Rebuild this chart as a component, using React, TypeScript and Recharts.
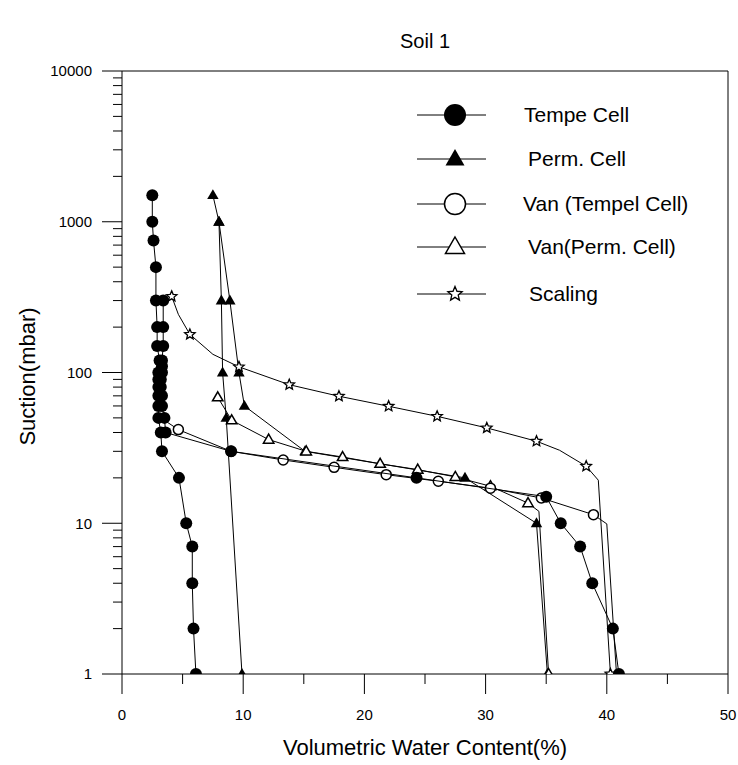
import React from "react";
import { ScatterChart, Scatter, XAxis, YAxis, ReferenceLine, Label } from "recharts";

const FONT = '"Liberation Sans", Arial, Helvetica, sans-serif';

// Tempe Cell, branch running to the wet end (legend entry)
const tempeX = [41.0, 40.5, 38.8, 37.8, 36.2, 35.0, 24.3, 9.0, 3.6, 3.5, 3.3, 3.3, 3.2, 3.2, 3.3, 3.3, 3.3, 3.4, 3.4, 3.4];
const tempeY = [1, 2, 4, 7, 10, 15, 20, 30, 40, 50, 60, 70, 80, 90, 100, 110, 120, 150, 200, 300];
// Tempe Cell, dry branch
const tempe2X = [2.5, 2.5, 2.6, 2.8, 2.8, 2.9, 2.9, 3.1, 3.0, 3.0, 3.0, 3.0, 3.0, 3.0, 3.2, 3.3, 4.7, 5.3, 5.8, 5.8, 5.9, 6.1];
const tempe2Y = [1500, 1000, 750, 500, 300, 200, 150, 120, 100, 90, 80, 70, 60, 50, 40, 30, 20, 10, 7, 4, 2, 1];

// Perm. Cell
const permX = [7.5, 8.0, 8.9, 9.65, 10.1, 15.1, 28.3, 34.2, 35.1];
const permY = [1500, 1000, 300, 100, 60, 30, 20, 10, 1];
const perm2X = [8.0, 8.2, 8.3, 8.6, 9.9];
const perm2Y = [1000, 300, 100, 50, 1];

// Van (Tempel Cell)
const vanTX = [3.2, 4.65, 9.0, 13.3, 17.5, 21.8, 26.1, 30.4, 34.6, 38.9, 40.0, 40.8];
const vanTY = [50, 41.8, 30, 26.3, 23.5, 21, 19, 17.1, 14.7, 11.4, 9.9, 1];
const vanTMarked = [false, true, true, true, true, true, true, true, true, true, false, false];

// Van (Perm. Cell)
const vanPX = [7.9, 9.05, 12.1, 15.2, 18.2, 21.3, 24.4, 27.5, 30.4, 33.5, 34.4, 35.2];
const vanPY = [68.5, 48.2, 35.9, 30, 27.5, 24.8, 22.7, 20.3, 17.6, 13.6, 12, 1];
const vanPMarked = [true, true, true, true, true, true, true, true, true, true, false, true];

// Scaling
const scaleX = [4.1, 4.65, 5.6, 7.5, 9.65, 13.8, 17.9, 22.0, 26.0, 30.1, 34.2, 36.1, 38.3, 39.3, 40.3];
const scaleY = [320, 243, 179, 132, 109, 83, 69.6, 59.7, 51.2, 42.9, 35, 30.5, 23.9, 19.3, 1];
const scaleMarked = [true, false, true, false, true, true, true, true, true, true, true, false, true, false, true];

const xTicks = [0, 5, 10, 15, 20, 25, 30, 35, 40, 45, 50];
const yTicks = [
  1, 2, 3, 4, 5, 6, 7, 8, 9,
  10, 20, 30, 40, 50, 60, 70, 80, 90,
  100, 200, 300, 400, 500, 600, 700, 800, 900,
  1000, 2000, 3000, 4000, 5000, 6000, 7000, 8000, 9000,
  10000,
];

const legendNames = ["Tempe Cell", "Perm. Cell", "Van (Tempel Cell)", "Van(Perm. Cell)", "Scaling"];
const legendKinds = ["fcircle", "ftri", "ocircle", "otri", "star"];

function rows(xs: number[], ys: number[], marked?: boolean[]) {
  return xs.map((x, i) => ({ x, y: ys[i], m: marked ? marked[i] : true }));
}

function marker(kind: string, cx: number, cy: number, s: number, key?: string) {
  if (kind === "fcircle") return <circle key={key} cx={cx} cy={cy} r={s} fill="#000" />;
  if (kind === "ocircle")
    return <circle key={key} cx={cx} cy={cy} r={s} fill="#fff" stroke="#000" strokeWidth={1.5} />;
  if (kind === "ftri" || kind === "otri") {
    const pts = `${cx},${cy - s} ${cx + s * 0.95},${cy + s * 0.65} ${cx - s * 0.95},${cy + s * 0.65}`;
    return kind === "ftri" ? (
      <polygon key={key} points={pts} fill="#000" />
    ) : (
      <polygon key={key} points={pts} fill="#fff" stroke="#000" strokeWidth={1.5} />
    );
  }
  const p: string[] = [];
  for (let i = 0; i < 10; i++) {
    const r = i % 2 === 0 ? s : s * 0.45;
    const a = -Math.PI / 2 + (i * Math.PI) / 5;
    p.push(`${cx + r * Math.cos(a)},${cy + r * Math.sin(a)}`);
  }
  return <polygon key={key} points={p.join(" ")} fill="#fff" stroke="#000" strokeWidth={1.3} />;
}

const shape = (kind: string, s: number) => (props: any) => {
  const { cx, cy, payload } = props;
  if (!payload || payload.m === false || cx == null || cy == null) return <g />;
  return marker(kind, cx, cy, s);
};

const YTick = (props: any) => {
  const { x, y, payload } = props;
  const v = payload.value;
  const major = Math.abs(Math.log10(v) - Math.round(Math.log10(v))) < 1e-9;
  return (
    <g>
      <line x1={x - (major ? 20 : 9)} y1={y} x2={x} y2={y} stroke="#000" strokeWidth={1} />
      {major && (
        <text x={x - 30} y={y} dy="0.35em" textAnchor="end" fontSize={15} fontFamily={FONT} fill="#000">
          {v}
        </text>
      )}
    </g>
  );
};

const XTick = (props: any) => {
  const { x, y, payload } = props;
  const v = payload.value;
  const major = v % 10 === 0;
  return (
    <g>
      <line x1={x} y1={y} x2={x} y2={y + (major ? 20 : 10)} stroke="#000" strokeWidth={1} />
      {major && (
        <text x={x} y={y + 41} dy="0.35em" textAnchor="middle" fontSize={15} fontFamily={FONT} fill="#000">
          {v}
        </text>
      )}
    </g>
  );
};

const YTitle = (props: any) => {
  const { viewBox } = props;
  const cx = viewBox.x + 27;
  const cy = viewBox.y + viewBox.height / 2 + 4;
  return (
    <text
      x={cx}
      y={cy}
      transform={`rotate(-90 ${cx} ${cy})`}
      textAnchor="middle"
      dominantBaseline="central"
      fontSize={22}
      fontFamily={FONT}
      fill="#000"
    >
      Suction(mbar)
    </text>
  );
};

const lineStyle = { stroke: "#000", strokeWidth: 1 };

export default function App() {
  const legendRows = [115, 159, 204, 247, 294];
  const legendSizes = [11, 10, 10.5, 10, 7.5];
  return (
    <div style={{ position: "absolute", left: 0, top: 0, width: 738, height: 765, background: "#fff" }}>
      <div
        style={{
          position: "absolute",
          left: 325,
          top: 30,
          width: 200,
          textAlign: "center",
          fontFamily: FONT,
          fontSize: 20,
          color: "#000",
        }}
      >
        Soil 1
      </div>
      <ScatterChart width={738} height={765} margin={{ top: 71, right: 10, bottom: 0, left: 0 }}>
        <XAxis
          type="number"
          dataKey="x"
          domain={[0, 50]}
          ticks={xTicks}
          interval={0}
          height={91}
          tickSize={0}
          tickMargin={0}
          tickLine={false}
          tick={<XTick />}
          axisLine={{ stroke: "#000" }}
          allowDataOverflow
        >
          <Label
            value="Volumetric Water Content(%)"
            position="insideBottom"
            offset={10}
            style={{ fontSize: 22, fontFamily: FONT, fill: "#000" }}
          />
        </XAxis>
        <YAxis
          type="number"
          dataKey="y"
          scale="log"
          domain={[1, 10000]}
          ticks={yTicks}
          interval={0}
          width={122}
          tickSize={0}
          tickMargin={0}
          tickLine={false}
          tick={<YTick />}
          axisLine={{ stroke: "#000" }}
          allowDataOverflow
        >
          <Label content={<YTitle />} />
        </YAxis>
        <ReferenceLine y={10000} stroke="#000" strokeWidth={1} />
        <ReferenceLine x={50} stroke="#000" strokeWidth={1} />
        <Scatter name="Perm. Cell 2" data={rows(perm2X, perm2Y)} line={lineStyle} shape={shape("ftri", 6)} fill="#000" isAnimationActive={false} />
        <Scatter name="Perm. Cell" data={rows(permX, permY)} line={lineStyle} shape={shape("ftri", 6)} fill="#000" isAnimationActive={false} />
        <Scatter name="Van(Perm. Cell)" data={rows(vanPX, vanPY, vanPMarked)} line={lineStyle} shape={shape("otri", 5.5)} fill="#fff" isAnimationActive={false} />
        <Scatter name="Scaling" data={rows(scaleX, scaleY, scaleMarked)} line={lineStyle} shape={shape("star", 5.5)} fill="#fff" isAnimationActive={false} />
        <Scatter name="Van (Tempel Cell)" data={rows(vanTX, vanTY, vanTMarked)} line={lineStyle} shape={shape("ocircle", 5)} fill="#fff" isAnimationActive={false} />
        <Scatter name="Tempe Cell 2" data={rows(tempe2X, tempe2Y)} line={lineStyle} shape={shape("fcircle", 6)} fill="#000" isAnimationActive={false} />
        <Scatter name="Tempe Cell" data={rows(tempeX, tempeY)} line={lineStyle} shape={shape("fcircle", 6)} fill="#000" isAnimationActive={false} />
      </ScatterChart>
      <svg
        width={738}
        height={765}
        style={{ position: "absolute", left: 0, top: 0, pointerEvents: "none" }}
      >
        {legendNames.map((name, i) => (
          <g key={name}>
            <line x1={417} y1={legendRows[i]} x2={486} y2={legendRows[i]} stroke="#000" strokeWidth={1} />
            {marker(legendKinds[i], 455, legendRows[i], legendSizes[i], "m" + i)}
            <text
              x={[524, 528, 523, 528, 529][i]}
              y={legendRows[i]}
              dy="0.35em"
              fontSize={21}
              fontFamily={FONT}
              fill="#000"
            >
              {name}
            </text>
          </g>
        ))}
      </svg>
    </div>
  );
}
